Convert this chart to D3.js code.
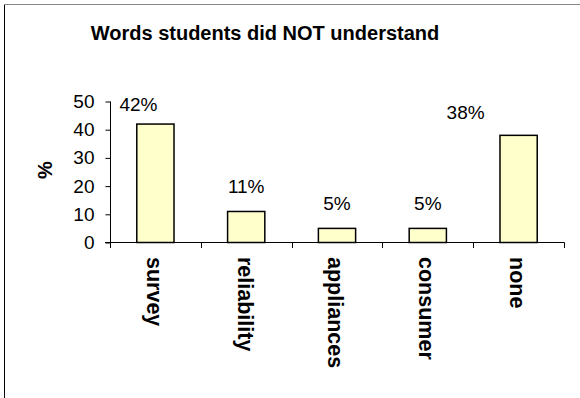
<!DOCTYPE html>
<html>
<head>
<meta charset="utf-8">
<script src="https://cdn.jsdelivr.net/npm/d3@7"></script>
<style>
  html, body { margin: 0; padding: 0; background: #fff; }
  svg { display: block; font-family: Arial, "Liberation Sans", sans-serif; }
</style>
</head>
<body>
<svg id="chart" width="580" height="398"></svg>
<script>
// Survey results: share of students who did not understand each word
const categories = ["survey", "reliability", "appliances", "consumer", "none"];
const percents = [42, 11, 5, 5, 38];
const valueLabels = ["42%", "11%", "5%", "5%", "38%"];
const yTicks = [0, 10, 20, 30, 40, 50];

const chartTitle = "Words students did NOT understand";
const yTitle = "%";

// hand-placed offsets for a couple of value labels
const labelNudge = { survey: [-17, 5], none: [-53, 2] };

const svg = d3.select("#chart");

// outer frame (left and top edges)
svg.append("line").attr("x1", 4.5).attr("x2", 4.5).attr("y1", 4).attr("y2", 398)
  .attr("stroke", "#000").attr("stroke-width", 1);
svg.append("line").attr("x1", 4).attr("x2", 580).attr("y1", 4.5).attr("y2", 4.5)
  .attr("stroke", "#888").attr("stroke-width", 1);

const x = d3.scaleBand().domain(categories).range([110, 564]).paddingInner(0.59).paddingOuter(0.295);
const y = d3.scaleLinear().domain([0, 50]).range([242.5, 101.5]);

// title
svg.append("text")
  .attr("x", 265).attr("y", 40)
  .attr("text-anchor", "middle")
  .attr("font-size", 20).attr("font-weight", "bold")
  .text(chartTitle);

// y axis
const yAxis = d3.axisLeft(y).tickValues(yTicks).tickSize(5).tickPadding(11);
const gy = svg.append("g").attr("transform", "translate(110.5,0)").call(yAxis);
gy.select(".domain").attr("stroke", "#000").attr("d", "M-0,101.5V242.5");
gy.selectAll(".tick line").attr("stroke", "#000");
gy.selectAll(".tick text").attr("font-size", 19).attr("fill", "#000")
  .attr("font-family", "Arial, 'Liberation Sans', sans-serif");

// y title
svg.append("text")
  .attr("transform", "translate(52,170) rotate(-90)")
  .attr("text-anchor", "middle")
  .attr("font-size", 20).attr("font-weight", "bold")
  .text(yTitle);

// x axis line with ticks at the category boundaries
const bounds = d3.range(categories.length + 1).map(i => 110 + i * x.step());
svg.append("line").attr("x1", 105).attr("x2", bounds[bounds.length - 1] + 0.5)
  .attr("y1", 242.5).attr("y2", 242.5).attr("stroke", "#000");
svg.selectAll("line.xtick").data(bounds).join("line")
  .attr("class", "xtick")
  .attr("x1", d => Math.round(d) + 0.5).attr("x2", d => Math.round(d) + 0.5)
  .attr("y1", 242.5).attr("y2", 248).attr("stroke", "#000");

// bars
svg.selectAll("rect.bar").data(categories).join("rect")
  .attr("class", "bar")
  .attr("x", d => x(d))
  .attr("width", x.bandwidth())
  .attr("y", (d, i) => y(percents[i]))
  .attr("height", (d, i) => y(0) - y(percents[i]))
  .attr("fill", "#FFFFCC")
  .attr("stroke", "#000")
  .attr("stroke-width", 1.5);

// value labels
svg.selectAll("text.val").data(categories).join("text")
  .attr("class", "val")
  .attr("x", (d, i) => x(d) + x.bandwidth() / 2 + (labelNudge[d] ? labelNudge[d][0] : 0))
  .attr("y", (d, i) => y(percents[i]) - 18 + (labelNudge[d] ? labelNudge[d][1] : 0))
  .attr("text-anchor", "middle")
  .attr("font-size", 19)
  .text((d, i) => valueLabels[i]);

// category labels, rotated to read downward
svg.selectAll("text.cat").data(categories).join("text")
  .attr("class", "cat")
  .attr("transform", d => `translate(${x(d) + x.bandwidth() / 2 - 1},257) rotate(90)`)
  .attr("dy", "0.35em")
  .attr("font-size", 21.5).attr("font-weight", "bold")
  .text(d => d);
</script>
</body>
</html>
